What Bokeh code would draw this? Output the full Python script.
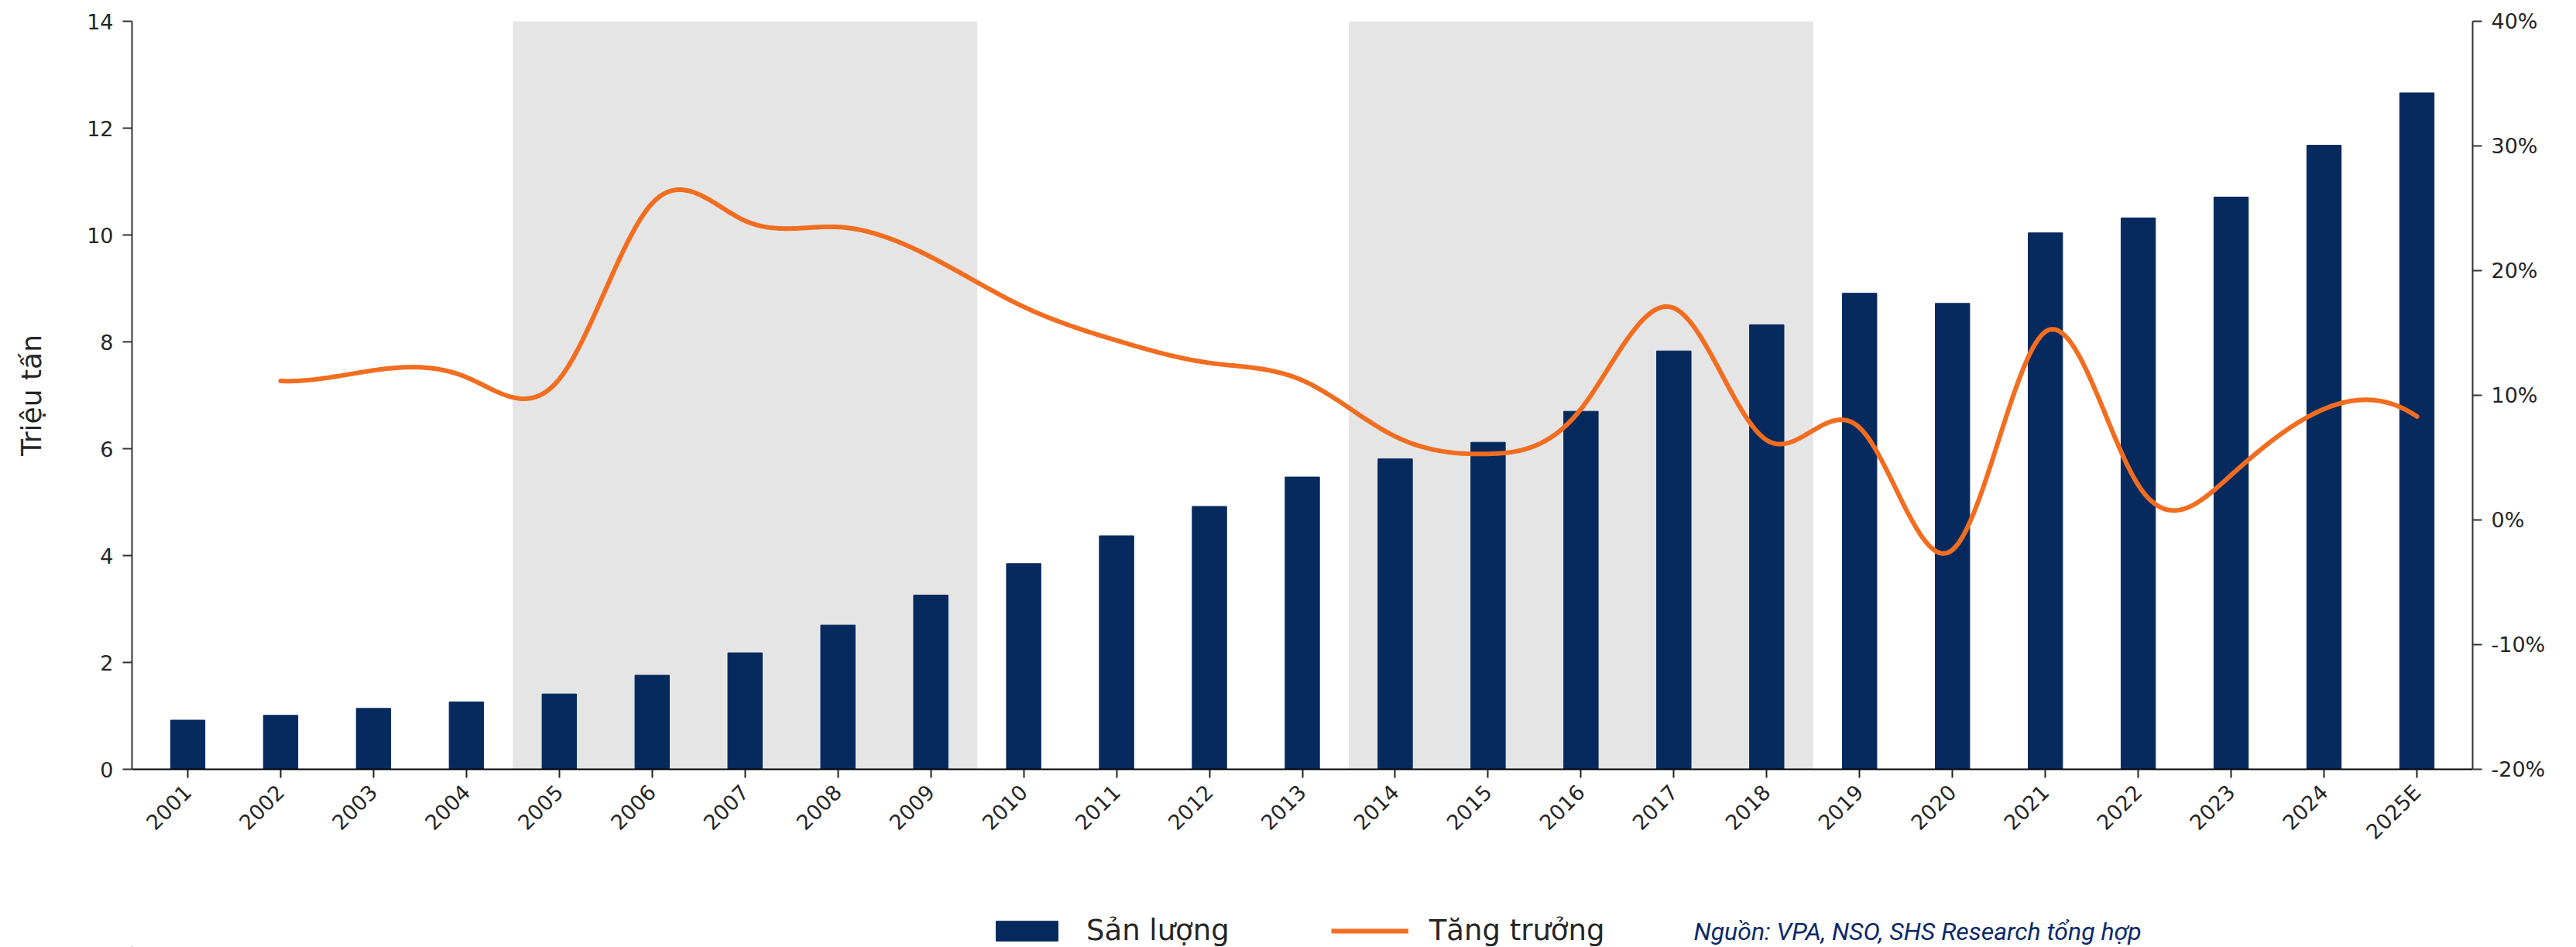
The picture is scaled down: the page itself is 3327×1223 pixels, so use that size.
import numpy as np
from bokeh.plotting import figure
from bokeh.layouts import column
from bokeh.models import (Range1d, LinearAxis, FixedTicker, PrintfTickFormatter,
                          Legend, LegendItem, Label, ColumnDataSource)
from bokeh.embed import file_html
from bokeh.resources import INLINE

# Sản lượng (triệu tấn) và tăng trưởng (%) theo năm
years = ["2001", "2002", "2003", "2004", "2005", "2006", "2007", "2008", "2009",
         "2010", "2011", "2012", "2013", "2014", "2015", "2016", "2017", "2018",
         "2019", "2020", "2021", "2022", "2023", "2024", "2025E"]
output_mt = [0.92, 1.01, 1.14, 1.26, 1.41, 1.76, 2.18, 2.70, 3.26,
             3.85, 4.37, 4.92, 5.47, 5.81, 6.12, 6.70, 7.83, 8.32,
             8.91, 8.72, 10.04, 10.32, 10.71, 11.68, 12.66]
growth_years = years[1:]
growth_pct = [11.15, 12.0, 11.45, 11.3, 25.4, 24.0, 23.5, 21.1, 17.1, 14.4,
              12.6, 11.2, 6.7, 5.3, 8.9, 17.0, 6.4, 7.4, -2.4, 15.1,
              2.8, 3.6, 8.9, 8.3]
shaded_periods = [("2005", "2009"), ("2014", "2018")]
left_ticks = [0, 2, 4, 6, 8, 10, 12, 14]
right_ticks = [-20, -10, 0, 10, 20, 30, 40]
source_note = "Nguồn: VPA, NSO, SHS Research tổng hợp"

NAVY = "#062a5e"
ORANGE = "#f26d1f"
SHADE = "#e5e5e5"
TXT = "#262626"

W = 3327
FOOT_H = 100


def smooth_curve(xs, ys, per_seg=40):
    """Cubic spline (not-a-knot ends) through evenly spaced points."""
    xs = np.asarray(xs, float)
    ys = np.asarray(ys, float)
    n = len(xs) - 1
    h = xs[1] - xs[0]
    A = np.zeros((n + 1, n + 1))
    b = np.zeros(n + 1)
    A[0, 0:3] = [1, -2, 1]
    A[n, n - 2:n + 1] = [1, -2, 1]
    for i in range(1, n):
        A[i, i - 1:i + 2] = [1, 4, 1]
        b[i] = 6 * (ys[i + 1] - 2 * ys[i] + ys[i - 1]) / h ** 2
    M = np.linalg.solve(A, b)
    out_x, out_y = [], []
    for i in range(n):
        t = np.linspace(0, 1, per_seg, endpoint=(i == n - 1))
        s = (M[i] * (1 - t) ** 3 / 6 + M[i + 1] * t ** 3 / 6) * h ** 2 \
            + (ys[i] - M[i] * h ** 2 / 6) * (1 - t) + (ys[i + 1] - M[i + 1] * h ** 2 / 6) * t
        out_x.extend(xs[i] + t * h)
        out_y.extend(s)
    return out_x, out_y


idx = {y: i for i, y in enumerate(years)}

p = figure(frame_width=3023, frame_height=966,
           min_border_left=170, min_border_right=134,
           min_border_top=27, min_border_bottom=230 - FOOT_H,
           x_range=Range1d(-0.6, len(years) - 0.4), y_range=Range1d(0, 14),
           output_backend="svg", toolbar_location=None)
p.extra_y_ranges = {"growth": Range1d(-20, 40)}
p.xgrid.visible = False
p.ygrid.visible = False
p.outline_line_color = None
p.background_fill_color = "white"
p.border_fill_color = "white"

# shaded periods
p.quad(left=[idx[a] - 0.5 for a, b in shaded_periods],
       right=[idx[b] + 0.5 for a, b in shaded_periods],
       bottom=0, top=14, fill_color=SHADE, line_color=None)

src = ColumnDataSource(dict(x=list(range(len(years))), v=output_mt))
p.vbar(x="x", top="v", width=0.37, source=src,
       fill_color=NAVY, line_color=NAVY, line_width=1)

gx, gy = smooth_curve([idx[y] for y in growth_years], growth_pct)
p.line(gx, gy, y_range_name="growth", line_color=ORANGE, line_width=6,
       line_cap="round")

# axes
xa = p.xaxis[0]
xa.ticker = FixedTicker(ticks=list(range(len(years))))
xa.major_label_overrides = {i: y for i, y in enumerate(years)}
xa.major_label_orientation = np.pi / 4
xa.minor_tick_line_color = None
xa.major_tick_in = 0
xa.major_tick_out = 11
xa.major_label_standoff = 14
xa.axis_line_color = "black"
xa.axis_line_width = 2
xa.major_tick_line_color = "#222222"
xa.major_tick_line_width = 2
xa.major_label_text_font = "DejaVu Sans"
xa.major_label_text_font_size = "27px"
xa.major_label_text_color = TXT

ya = p.yaxis[0]
ya.ticker = FixedTicker(ticks=left_ticks)
ya.minor_tick_line_color = None
ya.major_tick_in = 0
ya.major_tick_out = 12
ya.major_label_standoff = 12
ya.axis_line_color = "#333333"
ya.axis_line_width = 2
ya.major_tick_line_color = "#333333"
ya.major_tick_line_width = 2
ya.major_label_text_font = "DejaVu Sans"
ya.major_label_text_font_size = "27px"
ya.major_label_text_color = TXT
ya.axis_label = "Triệu tấn"
ya.axis_label_text_font = "DejaVu Sans"
ya.axis_label_text_font_style = "normal"
ya.axis_label_text_font_size = "36px"
ya.axis_label_text_color = TXT
ya.axis_label_standoff = 48

ra = LinearAxis(y_range_name="growth", ticker=FixedTicker(ticks=right_ticks),
                formatter=PrintfTickFormatter(format="%d%%"))
ra.minor_tick_line_color = None
ra.major_tick_in = 0
ra.major_tick_out = 12
ra.major_label_standoff = 12
ra.axis_line_color = "#333333"
ra.axis_line_width = 2
ra.major_tick_line_color = "#333333"
ra.major_tick_line_width = 2
ra.major_label_text_font = "DejaVu Sans"
ra.major_label_text_font_size = "27px"
ra.major_label_text_color = TXT
p.add_layout(ra, "right")

# footer strip (pixel-scaled ranges): legend keys and source note
f = figure(frame_width=W, frame_height=FOOT_H, min_border=0,
           x_range=Range1d(0, W), y_range=Range1d(0, FOOT_H),
           x_axis_location=None, y_axis_location=None,
           output_backend="svg", toolbar_location=None)
f.xgrid.visible = False
f.ygrid.visible = False
f.outline_line_color = None
f.background_fill_color = "white"
f.border_fill_color = "white"
# off-canvas stand-ins that only serve as legend keys
key_bar = f.vbar(x=[-500], top=[1], width=1, fill_color=NAVY, line_color=NAVY)
key_line = f.line(x=[-500, -400], y=[1, 1], line_color=ORANGE, line_width=6)

legend = Legend(items=[LegendItem(label="Sản lượng", renderers=[key_bar]),
                       LegendItem(label="Tăng trưởng", renderers=[key_line])],
                orientation="horizontal", location=(1276, 0),
                glyph_width=100, glyph_height=32, label_standoff=27, spacing=131,
                padding=0, margin=0, border_line_color=None,
                background_fill_alpha=0,
                label_text_font="DejaVu Sans", label_text_font_size="37px",
                label_text_color=TXT)
f.add_layout(legend)

f.add_layout(Label(x=2017, y=21, text=source_note,
                   text_font="Roboto", text_font_style="italic",
                   text_font_size="32px", text_color="#0b2a6b",
                   text_baseline="middle", text_align="left"))

layout = column(p, f, spacing=0)
open("out.html", "w").write(file_html(layout, INLINE))
